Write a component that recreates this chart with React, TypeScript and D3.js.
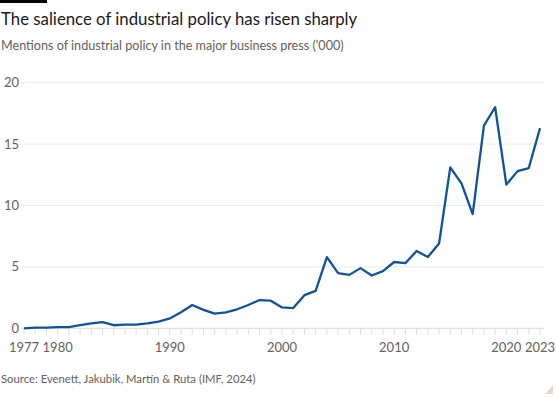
import React from 'react'
import * as d3 from 'd3'

const years: number[] = d3.range(1977, 2024)
const mentions: number[] = [
	0.0, 0.05, 0.05, 0.1, 0.1, 0.25, 0.4, 0.5, 0.25, 0.3,
	0.3, 0.4, 0.55, 0.8, 1.3, 1.9, 1.5, 1.2, 1.3, 1.55,
	1.9, 2.3, 2.25, 1.7, 1.65, 2.7, 3.05, 5.8, 4.5, 4.35,
	4.9, 4.3, 4.65, 5.4, 5.3, 6.3, 5.8, 6.9, 13.1, 11.8,
	9.3, 16.5, 18.0, 11.7, 12.8, 13.05, 16.3
]
const yTicks: number[] = [0, 5, 10, 15, 20]
const xLabels: number[] = [1977, 1980, 1990, 2000, 2010, 2020, 2023]

const title = 'The salience of industrial policy has risen sharply'
const subtitle = "Mentions of industrial policy in the major business press ('000)"
const source = 'Source: Evenett, Jakubik, Martín & Ruta (IMF, 2024)'

const W = 557
const H = 398
const font = 'Lato, sans-serif'

const App = () => {
	const x = d3.scaleLinear().domain([1977, 2023]).range([24, 540])
	const y = d3.scaleLinear().domain([0, 20]).range([328.3, 82.7])

	const line = d3
		.line<number>()
		.x((_, i) => x(years[i]))
		.y((d) => y(d))

	return (
		<svg
			width={W}
			height={H}
			style={{ position: 'absolute', left: 0, top: 0, background: '#fff' }}
			fontFamily={font}
		>
			<rect x={0} y={0} width={47} height={3} fill="#000" />
			<text x={1} y={25} fontSize={16.8} fill="#1a1a1a">
				{title}
			</text>
			<text x={1} y={50} fontSize={12.6} fill="#66605c">
				{subtitle}
			</text>

			{/* grid */}
			{yTicks.map((t) => (
				<g key={t}>
					{t > 0 && (
						<line x1={21} x2={544} y1={y(t)} y2={y(t)} stroke="#f2e9e3" strokeWidth={1} />
					)}
					<text x={19} y={y(t)} dy="0.35em" textAnchor="end" fontSize={13} fill="#66605c">
						{t}
					</text>
				</g>
			))}

			{/* x axis */}
			<line x1={21} x2={544} y1={y(0)} y2={y(0)} stroke="#e3dbd5" strokeWidth={1} />
			{years.map((yr) => (
				<line
					key={yr}
					x1={x(yr)}
					x2={x(yr)}
					y1={y(0)}
					y2={y(0) + 6}
					stroke="#e3dbd5"
					strokeWidth={1}
				/>
			))}
			{xLabels.map((yr) => (
				<text key={yr} x={x(yr)} y={352} textAnchor="middle" fontSize={13} fill="#66605c">
					{yr}
				</text>
			))}

			<path
				d={line(mentions) || ''}
				fill="none"
				stroke="#0f5499"
				strokeWidth={2.3}
				strokeLinejoin="round"
			/>

			<text x={1} y={383} fontSize={11.3} fill="#66605c">
				{source}
			</text>
			<polygon points="545,394 553,394 553,385" fill="#e6d9ce" />
		</svg>
	)
}

export default App
